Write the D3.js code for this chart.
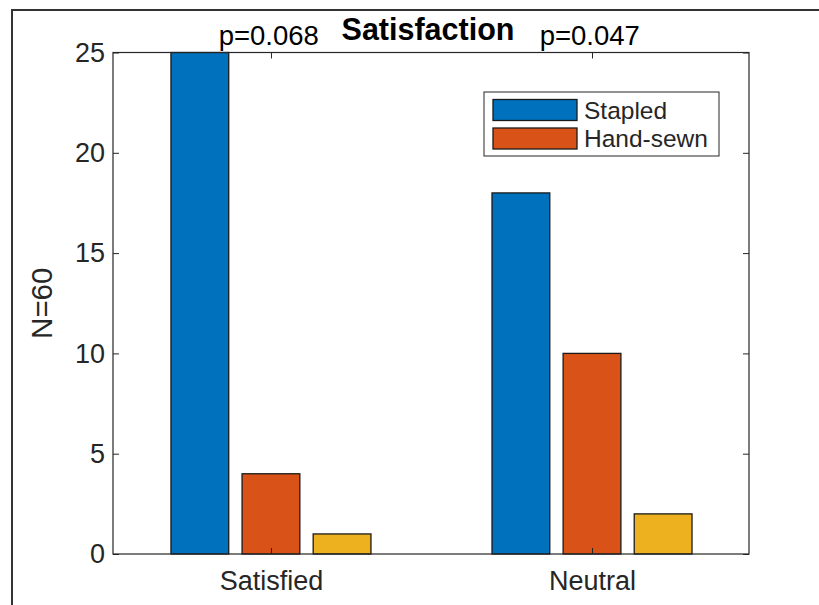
<!DOCTYPE html>
<html>
  <head>
    <meta charset="utf-8">
    <title>Satisfaction</title>
    <script src="https://cdn.jsdelivr.net/npm/d3@7"></script>
    <style>
      body { margin: 0; background: #fff; }
      svg { display: block; font-family: "Liberation Sans", Arial, Helvetica, sans-serif; }
      .axis text { fill: #262626; font-size: 27px; }
      .axis line { stroke: #262626; stroke-width: 1; }
      .axis .domain { display: none; }
    </style>
  </head>
  <body>
    <svg id="chart" width="819" height="605"></svg>
    <script>
      // data
      const categories = ["Satisfied", "Neutral"];
      const stapled = [25, 18];
      const handSewn = [4, 10];
      const third = [1, 2];
      const legendNames = ["Stapled", "Hand-sewn"];
      const pValues = ["p=0.068", "p=0.047"];
      const yTicks = [0, 5, 10, 15, 20, 25];
      const title = "Satisfaction";
      const yLabel = "N=60";

      const series = [stapled, handSewn, third];
      const colours = ["#0072BD", "#D95319", "#EDB120"];

      // layout
      const margin = { top: 52.5, right: 70, bottom: 51, left: 113 };
      const width = 819, height = 605;
      const chart = d3.select("#chart");

      // outer window frame
      chart.append("path")
        .attr("d", "M12," + height + "V10H" + width)
        .attr("fill", "none")
        .attr("stroke", "#333")
        .attr("stroke-width", 2);

      const x = d3.scaleLinear()
        .domain([0.508, categories.length + 0.489])
        .range([margin.left, width - margin.right]);
      const y = d3.scaleLinear()
        .domain([0, 25])
        .range([height - margin.bottom, margin.top]);

      // grouped bar geometry (data units)
      const step = 0.2215;
      const barWidth = 0.18;

      const barGroup = chart.append("g");
      series.forEach(function(values, s) {
        barGroup.selectAll(null)
          .data(values)
          .enter()
          .append("rect")
            .attr("x", function(d, i) { return x(i + 1 + (s - 1) * step - barWidth / 2); })
            .attr("width", x(barWidth) - x(0))
            .attr("y", function(d) { return y(d); })
            .attr("height", function(d) { return y(0) - y(d); })
            .attr("fill", colours[s])
            .attr("stroke", "#1a1a1a")
            .attr("stroke-width", 1.3);
      });

      // axes
      const xTickVals = categories.map(function(c, i) { return i + 1; });
      const xAxis = d3.axisBottom(x)
        .tickValues(xTickVals)
        .tickFormat(function(d) { return categories[d - 1]; })
        .tickSizeInner(-6).tickSizeOuter(0).tickPadding(17);
      const xAxisTop = d3.axisTop(x)
        .tickValues(xTickVals).tickFormat("")
        .tickSizeInner(-6).tickSizeOuter(0);
      const yAxis = d3.axisLeft(y)
        .tickValues(yTicks)
        .tickSizeInner(-6).tickSizeOuter(0).tickPadding(8);
      const yAxisRight = d3.axisRight(y)
        .tickValues(yTicks).tickFormat("")
        .tickSizeInner(-6).tickSizeOuter(0);

      chart.append("g").attr("class", "axis")
        .attr("transform", "translate(0," + y(0) + ")").call(xAxis);
      chart.append("g").attr("class", "axis")
        .attr("transform", "translate(0," + y(25) + ")").call(xAxisTop);
      chart.append("g").attr("class", "axis")
        .attr("transform", "translate(" + x.range()[0] + ",0)").call(yAxis);
      chart.append("g").attr("class", "axis")
        .attr("transform", "translate(" + x.range()[1] + ",0)").call(yAxisRight);

      // axes box
      chart.append("rect")
        .attr("x", x.range()[0]).attr("y", y(25))
        .attr("width", x.range()[1] - x.range()[0])
        .attr("height", y(0) - y(25))
        .attr("fill", "none")
        .attr("stroke", "#262626")
        .attr("stroke-width", 1.2);

      // title and labels
      chart.append("text")
        .attr("x", (x.range()[0] + x.range()[1]) / 2 - 3)
        .attr("y", 40)
        .attr("text-anchor", "middle")
        .attr("font-size", 30.5)
        .attr("font-weight", "bold")
        .attr("fill", "#000")
        .text(title);

      chart.append("text")
        .attr("transform", "translate(52," + (y(12.5)) + ") rotate(-90)")
        .attr("text-anchor", "middle")
        .attr("font-size", 29.5)
        .attr("fill", "#262626")
        .text(yLabel);

      // p-values above each group
      chart.selectAll(null)
        .data(pValues)
        .enter()
        .append("text")
          .attr("x", function(d, i) { return x(i + 1 - 0.163); })
          .attr("y", y(25.35))
          .attr("font-size", 27.5)
          .attr("fill", "#000")
          .text(function(d) { return d; });

      // legend
      const legend = chart.append("g").attr("transform", "translate(484,92)");
      legend.append("rect")
        .attr("width", 235).attr("height", 64)
        .attr("fill", "#fff")
        .attr("stroke", "#262626")
        .attr("stroke-width", 1);
      const rows = legend.selectAll(null)
        .data(legendNames)
        .enter()
        .append("g")
          .attr("transform", function(d, i) { return "translate(9," + (7.5 + i * 28.5) + ")"; });
      rows.append("rect")
        .attr("width", 84).attr("height", 21)
        .attr("fill", function(d, i) { return colours[i]; })
        .attr("stroke", "#1a1a1a")
        .attr("stroke-width", 1.3);
      rows.append("text")
        .attr("x", 91).attr("y", 10.5)
        .attr("dy", "0.35em")
        .attr("font-size", 24.5)
        .attr("fill", "#262626")
        .text(function(d) { return d; });
    </script>
  </body>
</html>
